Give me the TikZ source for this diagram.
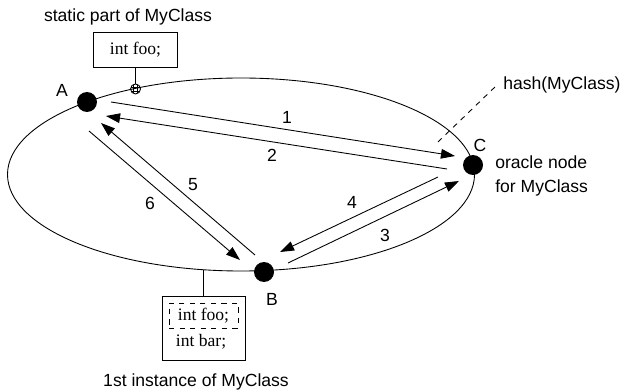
\documentclass[tikz,border=0pt]{standalone}
\usepackage{fontspec}
\setmainfont{Liberation Sans}
\newfontfamily\codefont{Liberation Serif}
\usetikzlibrary{calc,arrows.meta,shapes}

\begin{document}
\begin{tikzpicture}[x=0.02cm, y=-0.02cm, line width=0.5pt,
    dot/.style={circle, fill=black, inner sep=0pt, minimum size=0.4cm},
    msg/.style={-{Triangle[length=8pt,width=5.5pt]}},
    code box/.style={draw, rectangle, font=\codefont, inner sep=0pt, align=center}]
    \useasboundingbox (0,0) rectangle (624,391);

    % The ring of peers
    \draw (241,174.5) ellipse [x radius=233.5, y radius=96.5];

    % Peers A, B and C
    \node[dot] (A) at (87,102) {};
    \node[dot] (B) at (264,272) {};
    \node[dot] (C) at (473,165) {};
    \node (Alab) at (62,90) {A};
    \node (Blab) at (272,299) {B};
    \node (Clab) at (480,145) {C};
    \node[right, align=left, font={\fontsize{10}{13.7}\selectfont}] (oracle) at (489,176) {oracle node\\for MyClass};

    % Hash position of the class
    \node[right] (hash) at (497,85) {hash(MyClass)};
    \draw[dashed] ($(C)+(-35,-23)$) -- (hash.west);

    % Static part, hooked to the ring
    \node[code box, minimum width=1.68cm, minimum height=0.7cm] (static) at (135.5,49.5) {int foo;};
    \node (statlab) at (128,17) {static part of MyClass};
    \node[circle, draw, minimum size=0.2cm, inner sep=0pt,
        path picture={
            \foreach \d in {-2,2} {
                \draw ($(path picture bounding box.center)+(\d,-6)$) -- +(0,12);
                \draw ($(path picture bounding box.center)+(-6,\d)$) -- +(12,0);
            }
        }] (pin) at (135.5,89) {};
    \draw (static) -- (pin);

    % First instance, hooked to the ring
    \node[code box, minimum width=1.66cm, minimum height=1.28cm] (inst) at (203.5,328) {};
    \node[draw, dashed, font=\codefont, minimum width=1.38cm, minimum height=0.5cm, inner sep=0pt] (ifoo) at (203.5,315.5) {int foo;};
    \node[font=\codefont] (ibar) at (201,342) {int bar;};
    \coordinate (hook) at (203.5,269.8);
    \draw (inst) -- (hook);
    \node (instlab) at (196,382) {1st instance of MyClass};

    % Messages
    \draw[msg] ($(A)+(24,0)$) -- ($(C)+(-18,-9)$);
    \draw[msg] ($(C)+(-26,4)$) -- ($(A)+(19,14)$);
    \draw[msg] ($(B)+(24,-9)$) -- ($(C)+(-14,16)$);
    \draw[msg] ($(C)+(-35,12)$) -- ($(B)+(16,-20)$);
    \draw[msg] ($(B)+(-9,-17)$) -- ($(A)+(14,21)$);
    \draw[msg] ($(A)+(2,29)$) -- ($(B)+(-24,-12)$);
    \node (m1) at (287,117) {1};
    \node (m2) at (272,155) {2};
    \node (m3) at (385,235) {3};
    \node (m4) at (352,202) {4};
    \node (m5) at (193,185) {5};
    \node (m6) at (150,203) {6};

\end{tikzpicture}
\end{document}
